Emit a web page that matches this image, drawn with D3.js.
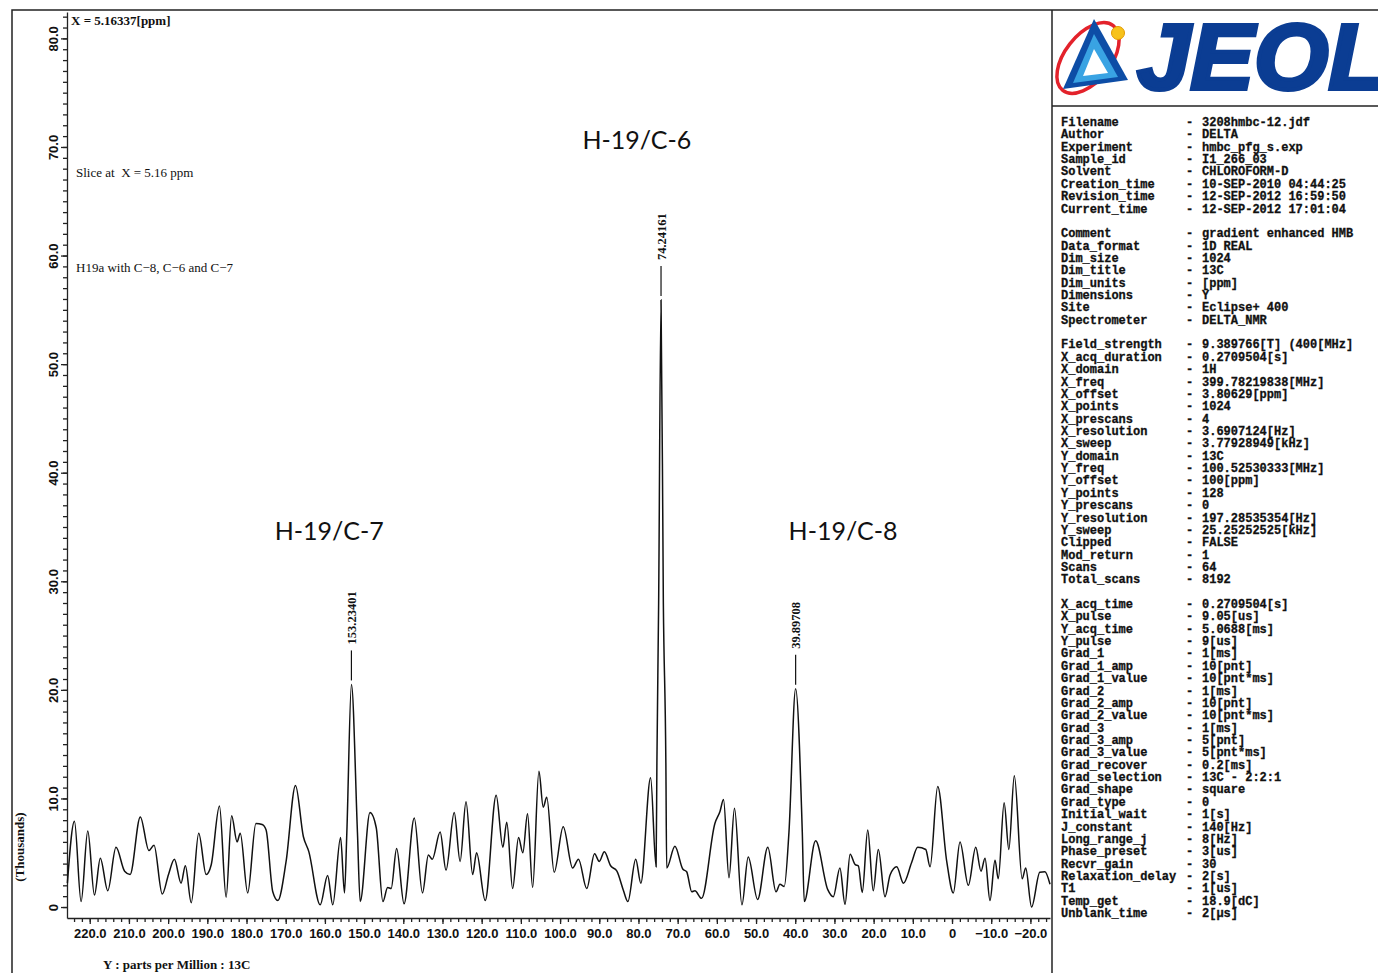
<!DOCTYPE html>
<html>
<head>
<meta charset="utf-8">
<script src="https://cdn.jsdelivr.net/npm/d3@7"></script>
<style>
  body { margin: 0; background: #fff; }
  text { fill: #111; white-space: pre; }
</style>
</head>
<body>
<svg id="graph" width="1378" height="973"></svg>
<script>

// spectrum trace (ppm, intensity in thousands)
var specPpm = [225.7, 223.9, 222.2, 220.5, 218.8, 217.3, 215.4, 213.3, 211.1, 209.7, 207.1, 204.9, 203.6, 201.5, 199.9,
    198.4, 196.7, 195.6, 194.1, 192.2, 190.3, 189.0, 186.9, 185.2, 183.8, 182.4, 181.6, 179.7, 177.6, 176.0,
    175.0, 173.3, 172.0, 169.9, 167.5, 165.5, 164.1, 161.2, 159.3, 158.0, 156.0, 155.0, 154.4, 153.23, 151.7,
    151.0, 148.5, 146.9, 145.2, 144.0, 143.1, 141.7, 139.8, 137.2, 135.1, 133.6, 132.6, 130.6, 129.1, 127.0,
    125.5, 124.0, 122.3, 121.3, 119.1, 116.3, 114.6, 113.6, 112.1, 110.6, 109.5, 108.3, 107.0, 105.4, 104.3,
    103.4, 101.5, 99.2, 96.8, 95.3, 93.2, 91.2, 90.0, 88.7, 87.1, 85.5, 83.9, 82.7, 80.7, 79.4,
    76.9, 75.5, 75.3, 74.85, 74.24, 73.65, 73.0, 72.8, 70.7, 68.7, 67.7, 66.4, 65.6, 63.9, 60.5,
    59.2, 58.3, 56.9, 55.5, 53.6, 52.0, 49.6, 47.0, 44.9, 43.9, 42.8, 41.6, 39.9, 38.2, 37.7,
    34.8, 31.7, 30.3, 28.6, 27.3, 26.0, 24.7, 23.9, 22.9, 21.5, 20.1, 18.8, 17.1, 15.8, 14.1,
    12.4, 10.3, 8.75, 6.7, 5.6, 3.65, 1.35, -0.33, -2.04, -4.16, -6.05, -7.4, -8.42, -9.69, -10.97,
    -11.8, -13.3, -14.5, -15.9, -17.9, -18.8, -20.3, -22.4, -23.7, -25.0];
var specVal = [2.2, 7.9, 0.5, 7.0, 1.1, 4.5, 1.5, 5.5, 3.3, 3.0, 8.3, 5.2, 5.7, 1.2, 3.0,
    4.4, 2.2, 3.8, 0.4, 6.8, 3.0, 3.9, 9.3, 0.9, 8.4, 6.0, 6.8, 1.3, 7.7, 7.6,
    7.1, 1.4, 0.6, 4.2, 11.2, 6.5, 5.1, 0.2, 2.9, 0.2, 6.4, 1.3, 6.9, 20.5, 6.9,
    0.5, 8.7, 7.3, 0.5, 1.8, 1.7, 5.4, 0.3, 8.2, 1.3, 4.8, 4.4, 6.9, 3.4, 8.7,
    4.2, 9.7, 3.0, 5.0, 0.6, 10.3, 5.5, 7.8, 1.7, 6.4, 5.0, 8.6, 1.8, 12.5, 9.2,
    10.1, 3.2, 7.4, 3.6, 4.4, 1.7, 4.9, 4.2, 5.1, 3.8, 3.3, 1.6, 0.5, 4.4, 2.2,
    11.9, 3.7, 13.0, 28.0, 55.9, 28.0, 13.0, 3.6, 5.6, 3.5, 3.25, 1.4, 1.5, 0.8, 7.7,
    8.8, 9.9, 2.7, 9.1, 0.2, 4.6, 0.7, 5.5, 1.4, 2.1, 1.9, 6.9, 20.1, 6.9, 0.5,
    6.1, 1.6, 0.95, 3.6, 0.25, 4.85, 3.9, 3.8, 1.35, 7.1, 1.5, 5.3, 0.95, 2.95, 3.7,
    2.2, 4.1, 5.5, 5.3, 3.7, 11.1, 4.2, 1.3, 6.0, 2.0, 5.5, 3.3, 4.5, 0.6, 4.3,
    2.6, 9.6, 5.3, 12.1, 2.6, 3.6, 0.0, 3.2, 3.25, 2.1];

var peakPpm = [153.23401, 74.24161, 39.89708];
var peakVal = [20.5, 55.9, 20.1];
var peakLabels = ["153.23401", "74.24161", "39.89708"];

var assignLabels = ["H-19/C-7", "H-19/C-6", "H-19/C-8"];
var assignPpm = [158.9, 80.4, 27.8];
var assignVal = [33.8, 69.8, 33.8];

var xMajorTicks = d3.range(220, -21, -10);
var xMinorTicks = d3.range(224, -25, -2);
var yMajorTicks = d3.range(0, 81, 10);
var yMinorTicks = d3.range(0, 83, 1);

var paramKeys = ["Filename", "Author", "Experiment", "Sample_id", "Solvent", "Creation_time", "Revision_time", "Current_time", "",
    "Comment", "Data_format", "Dim_size", "Dim_title", "Dim_units", "Dimensions", "Site", "Spectrometer", "",
    "Field_strength", "X_acq_duration", "X_domain", "X_freq", "X_offset", "X_points", "X_prescans", "X_resolution", "X_sweep",
    "Y_domain", "Y_freq", "Y_offset", "Y_points", "Y_prescans", "Y_resolution", "Y_sweep", "Clipped", "Mod_return", "Scans", "Total_scans", "",
    "X_acq_time", "X_pulse", "Y_acq_time", "Y_pulse", "Grad_1", "Grad_1_amp", "Grad_1_value", "Grad_2", "Grad_2_amp", "Grad_2_value",
    "Grad_3", "Grad_3_amp", "Grad_3_value", "Grad_recover", "Grad_selection", "Grad_shape", "Grad_type", "Initial_wait",
    "J_constant", "Long_range_j", "Phase_preset", "Recvr_gain", "Relaxation_delay", "T1", "Temp_get", "Unblank_time"];
var paramValues = ["3208hmbc-12.jdf", "DELTA", "hmbc_pfg_s.exp", "I1_266_03", "CHLOROFORM-D", "10-SEP-2010 04:44:25", "12-SEP-2012 16:59:50", "12-SEP-2012 17:01:04", "",
    "gradient enhanced HMB", "1D REAL", "1024", "13C", "[ppm]", "Y", "Eclipse+ 400", "DELTA_NMR", "",
    "9.389766[T] (400[MHz]", "0.2709504[s]", "1H", "399.78219838[MHz]", "3.80629[ppm]", "1024", "4", "3.6907124[Hz]", "3.77928949[kHz]",
    "13C", "100.52530333[MHz]", "100[ppm]", "128", "0", "197.28535354[Hz]", "25.25252525[kHz]", "FALSE", "1", "64", "8192", "",
    "0.2709504[s]", "9.05[us]", "5.0688[ms]", "9[us]", "1[ms]", "10[pnt]", "10[pnt*ms]", "1[ms]", "10[pnt]", "10[pnt*ms]",
    "1[ms]", "5[pnt]", "5[pnt*ms]", "0.2[ms]", "13C - 2:2:1", "square", "0", "1[s]",
    "140[Hz]", "8[Hz]", "3[us]", "30", "2[s]", "1[us]", "18.9[dC]", "2[\u03bcs]"];

var svg = d3.select("#graph");
var serif = "'Liberation Serif', 'Times New Roman', serif";

var x = d3.scaleLinear().domain([225.8, -25.0]).range([67, 1050]);
var y = d3.scaleLinear().domain([-1.01, 82.43]).range([918, 12]);

function fmt(d) {
    if (d === 0) return "0";
    return d < 0 ? "\u2212" + (-d).toFixed(1) : d.toFixed(1);
}

// frame
svg.append("rect").attr("width", 1378).attr("height", 973).attr("fill", "#fff");
var frame = svg.append("g").attr("stroke", "#222").attr("stroke-width", 1.5).attr("fill", "none");
frame.append("path").attr("d", "M12,973 L12,10 L1378,10");
frame.append("path").attr("d", "M1052,10 L1052,973");
frame.append("path").attr("d", "M1052,106 L1378,106");

// axes
var g = svg.append("g").style("font-family", serif).style("font-weight", "bold");

g.append("g")
    .attr("transform", "translate(0,918)")
    .call(d3.axisBottom(x).tickValues(xMinorTicks).tickSize(4).tickSizeOuter(0).tickFormat(""))
    .call(function(s) { s.select(".domain").remove(); });

var xAxis = g.append("g")
    .attr("transform", "translate(0,918)")
    .call(d3.axisBottom(x).tickValues(xMajorTicks).tickSize(6).tickSizeOuter(0).tickFormat(fmt));
xAxis.selectAll("text").attr("y", 11).attr("font-size", 13).attr("fill", "#111");

g.append("g")
    .attr("transform", "translate(67,0)")
    .call(d3.axisLeft(y).tickValues(yMinorTicks).tickSize(4).tickSizeOuter(0).tickFormat(""))
    .call(function(s) { s.select(".domain").remove(); });

var yAxis = g.append("g")
    .attr("transform", "translate(67,0)")
    .call(d3.axisLeft(y).tickValues(yMajorTicks).tickSize(6).tickSizeOuter(0).tickFormat(fmt));
yAxis.selectAll("text")
    .attr("x", null).attr("dy", null)
    .attr("text-anchor", "middle")
    .attr("font-size", 13)
    .attr("transform", "translate(-9,0) rotate(-90)");

g.selectAll(".domain, .tick line").attr("stroke", "#222").attr("stroke-width", 1.3);

g.append("text")
    .attr("transform", "translate(24,847) rotate(-90)")
    .attr("text-anchor", "middle")
    .attr("font-size", 13)
    .text("(Thousands)");

g.append("text")
    .attr("x", 103).attr("y", 969)
    .attr("font-size", 13)
    .text("Y : parts per Million : 13C");

// notes in the plot
svg.append("text")
    .attr("x", 71).attr("y", 25)
    .style("font-family", serif).style("font-weight", "bold").attr("font-size", 13)
    .text("X = 5.16337[ppm]");
svg.append("text")
    .attr("x", 76).attr("y", 177)
    .style("font-family", serif).attr("font-size", 13)
    .text("Slice at  X = 5.16 ppm");
svg.append("text")
    .attr("x", 76).attr("y", 272)
    .style("font-family", serif).attr("font-size", 13)
    .text("H19a with C\u22128, C\u22126 and C\u22127");

// the slice
var line = d3.line()
    .x(function(d) { return x(d[0]); })
    .y(function(d) { return y(d[1]); })
    .curve(d3.curveMonotoneX);

svg.append("path")
    .datum(specPpm.map(function(p, i) { return [p, specVal[i]]; }))
    .attr("fill", "none")
    .attr("stroke", "#111")
    .attr("stroke-width", 1.5)
    .attr("d", line);

// peak picks
var picks = svg.append("g");
peakPpm.forEach(function(p, i) {
    var px = x(p), top = y(peakVal[i]) - 4;
    picks.append("line")
        .attr("x1", px).attr("x2", px)
        .attr("y1", top).attr("y2", top - 30)
        .attr("stroke", "#111").attr("stroke-width", 1.2);
    picks.append("text")
        .attr("transform", "translate(" + (px + 4.5) + "," + (top - 36) + ") rotate(-90)")
        .style("font-family", serif).style("font-weight", "bold")
        .attr("font-size", 12.5)
        .text(peakLabels[i]);
});

// assignments
assignLabels.forEach(function(t, i) {
    svg.append("text")
        .attr("x", x(assignPpm[i])).attr("y", y(assignVal[i]))
        .attr("text-anchor", "middle")
        .style("font-family", "Lato, 'Open Sans', sans-serif")
        .attr("font-size", 25)
        .text(t);
});

// logo
var logo = svg.append("g");
logo.append("ellipse")
    .attr("cx", 1088).attr("cy", 58).attr("rx", 23).attr("ry", 41)
    .attr("transform", "rotate(38,1088,58)")
    .attr("fill", "none").attr("stroke", "#e3222b").attr("stroke-width", 3.5);
logo.append("path").attr("d", "M1094,19 L1063,89 L1128,80 Z").attr("fill", "#0d4da6");
logo.append("path").attr("d", "M1094,34 L1073,83 L1118,77 Z").attr("fill", "#39a3e3");
logo.append("path").attr("d", "M1094,49 L1083,76 L1108,73 Z").attr("fill", "#fff");
logo.append("circle").attr("cx", 1118).attr("cy", 33).attr("r", 6.5).attr("fill", "#f7c21a").attr("stroke", "#e39a00");
logo.append("text")
    .attr("x", 1137).attr("y", 89)
    .attr("textLength", 250).attr("lengthAdjust", "spacingAndGlyphs")
    .style("font-family", "'Liberation Sans', Arial, sans-serif")
    .style("font-weight", "bold").style("font-style", "italic")
    .attr("font-size", 92)
    .style("fill", "#0b3d93").attr("stroke", "#0b3d93").attr("stroke-width", 4)
    .text("JEOL");

// parameter list
var params = svg.append("g")
    .style("font-family", "'Liberation Mono', 'Courier New', monospace")
    .style("font-weight", "bold")
    .attr("font-size", 12)
    .attr("stroke", "#111").attr("stroke-width", 0.3);
paramKeys.forEach(function(k, i) {
    if (!k) return;
    var yy = 126 + i * 12.36;
    params.append("text").attr("x", 1061).attr("y", yy).text(k);
    params.append("text").attr("x", 1186).attr("y", yy).text("-");
    params.append("text").attr("x", 1202).attr("y", yy).text(paramValues[i]);
});

</script>
</body>
</html>
